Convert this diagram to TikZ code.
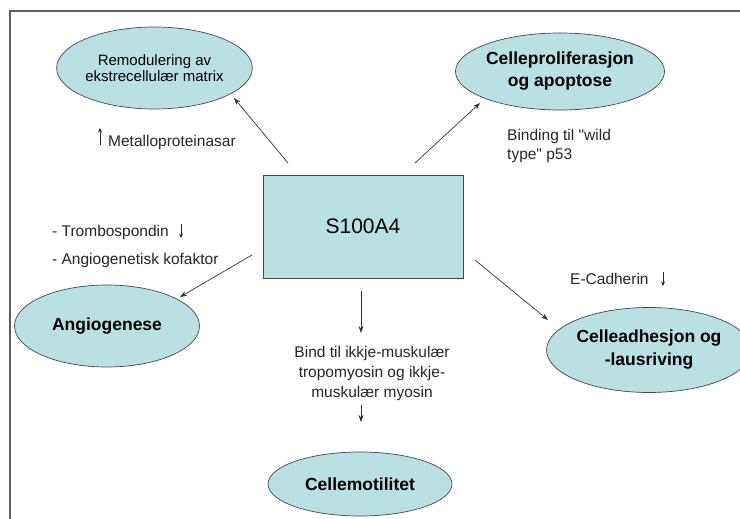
\documentclass[tikz,border=0pt]{standalone}
\usepackage{fontspec}
\setmainfont{Liberation Sans}[Ligatures=TeXOff]
\usetikzlibrary{shapes.geometric,arrows.meta}
\definecolor{cellfill}{RGB}{186,224,228}
\definecolor{edgegray}{RGB}{70,70,70}
\definecolor{framegray}{RGB}{95,95,95}
\tikzset{
  oval/.style={ellipse, draw=edgegray, line width=0.7pt, fill=cellfill, inner sep=0pt, align=center},
  boldoval/.style={oval, font=\fontsize{17.5}{22}\selectfont\bfseries},
  plainlabel/.style={inner sep=0pt, font=\fontsize{15.5}{20}\selectfont, text=black!85},
  conn/.style={-{Stealth[length=7pt,width=5pt]}, line width=0.7pt, draw=black!80},
  tinyarrow/.style={-{Stealth[length=4.5pt,width=4pt]}, line width=0.8pt, draw=black!85}
}
\begin{document}
\begin{tikzpicture}[x=1pt,y=-1pt]
\useasboundingbox (0,0) rectangle (740,519);
\fill[white] (0,0) rectangle (740,519);
% frame
\draw[framegray, line width=1.1pt] (10,519) -- (10,11) -- (740,11);

% central box
\node[draw=edgegray, line width=0.7pt, fill=cellfill, minimum width=200pt, minimum height=103pt, inner sep=0pt,
      font=\fontsize{21}{24}\selectfont] (s100) at (363,226.5) {S100A4};

% ellipses
\node[oval, minimum width=183pt, minimum height=82pt, font=\fontsize{15}{16}\selectfont] (remod) at (154.5,68) {Remodulering av\\ekstrecellulær matrix};
\node[boldoval, minimum width=184pt, minimum height=77pt] (prolif) at (560,71.5) {Celleproliferasjon\\og apoptose};
\node[boldoval, minimum width=185pt, minimum height=82pt] (angio) at (107,326) {Angiogenese};
\node[boldoval, minimum width=180pt, minimum height=85pt, font=\fontsize{17.5}{23}\selectfont\bfseries] (adhes) at (649,350) {Celleadhesjon og\\-lausriving};
\node[boldoval, minimum width=184pt, minimum height=64pt] (motil) at (360,484) {Cellemotilitet};

% connector end points
\coordinate (a1s) at (288,163); \coordinate (a1e) at (234,98);
\coordinate (a2s) at (415,163); \coordinate (a2e) at (480,103);
\coordinate (a3s) at (252,255); \coordinate (a3e) at (180,297);
\coordinate (a4s) at (475,260); \coordinate (a4e) at (548,320);
\coordinate (a5s) at (361,291); \coordinate (a5e) at (361,333);
\coordinate (a6s) at (361,405); \coordinate (a6e) at (361,422);

\draw[conn] (a1s) -- (a1e);
\draw[conn] (a2s) -- (a2e);
\draw[conn] (a3s) -- (a3e);
\draw[conn] (a4s) -- (a4e);
\draw[conn] (a5s) -- (a5e);
\draw[conn] (a6s) -- (a6e);

% labels
\node[plainlabel, anchor=west] (metal) at (108,142) {Metalloproteinasar};
\coordinate (m1) at (100,145); \coordinate (m2) at (100,128);
\draw[tinyarrow] (m1) -- (m2);

\node[plainlabel, anchor=west, align=left, font=\fontsize{15.5}{18.5}\selectfont] (p53) at (507,146) {Binding til "wild\\type" p53};

\node[plainlabel, anchor=west] (tromb) at (52,232) {- Trombospondin};
\coordinate (t1) at (181,224); \coordinate (t2) at (181,238);
\draw[tinyarrow] (t1) -- (t2);
\node[plainlabel, anchor=west] (kofak) at (52,260) {- Angiogenetisk kofaktor};

\node[plainlabel, anchor=west] (ecad) at (570,279) {E-Cadherin};
\coordinate (e1) at (663,272); \coordinate (e2) at (663,286);
\draw[tinyarrow] (e1) -- (e2);

\node[plainlabel, align=center, font=\fontsize{15.5}{20}\selectfont] (bind) at (372,373) {Bind til ikkje-muskulær\\tropomyosin og ikkje-\\muskulær myosin};
\end{tikzpicture}
\end{document}
